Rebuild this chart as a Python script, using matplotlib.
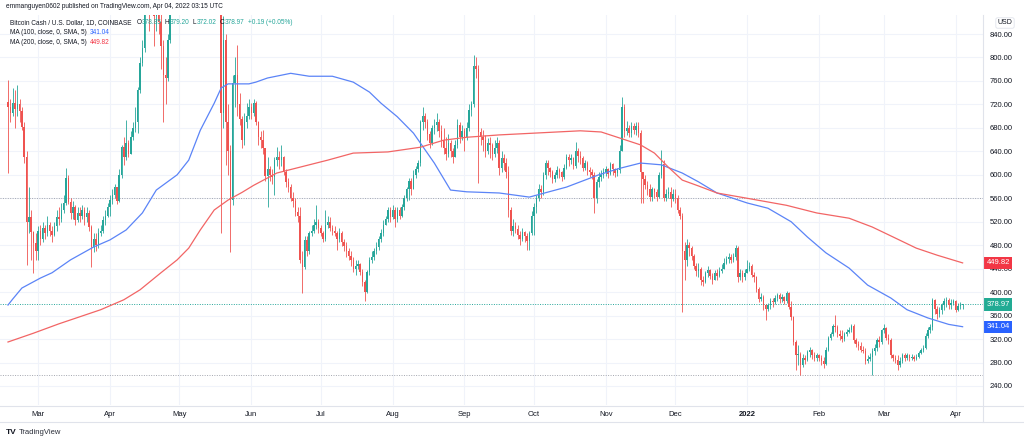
import numpy as np
import pandas as pd
import matplotlib
matplotlib.use('Agg')
import matplotlib.pyplot as plt
from matplotlib.lines import Line2D
from matplotlib.transforms import blended_transform_factory

plt.rcParams['font.family'] = ['Liberation Sans', 'DejaVu Sans']

# daily BCH/USD candles, Coinbase, from 2021-02-16
first_day = '2021-02-16'
first_open = 724
close = [
    716, 705, 722, 712, 720, 708, 681, 630, 520, 528, 502, 483, 470,
    505, 490, 510, 500, 515, 505, 498, 512, 528, 525, 540, 552, 595, 554, 535, 545, 523, 535, 530, 540, 528, 535, 511, 477, 490, 480, 500, 505, 523, 530, 545,
    557, 565, 579, 555, 600, 647, 630, 655, 636, 665, 680, 690, 745, 790, 816, 900, 960, 920, 1000, 870, 880, 860, 820, 770, 765, 830, 900, 940, 960, 1000,
    1050, 1100, 1200, 1320, 1400, 1450, 1480, 1400, 1350, 1500, 1560, 1300, 1200, 1150, 1300, 1200, 1050, 1000, 705, 830, 690, 640, 557, 756, 770, 720, 695, 660, 690, 700, 715,
    705, 722, 690, 665, 660, 645, 598, 610, 600, 596, 625, 630, 625, 630, 605, 588, 580, 560, 555, 537, 530, 455, 443, 489, 470, 500, 505, 515, 520, 510,
    500, 490, 515, 520, 510, 505, 500, 490, 500, 485, 478, 470, 462, 455, 440, 445, 448, 435, 418, 400, 435, 455, 460, 470, 477, 490, 500, 515, 525, 540, 528,
    540, 525, 540, 530, 545, 560, 575, 590, 575, 600, 610, 620, 690, 700, 690, 670, 655, 680, 685, 690, 675, 660, 645, 635, 655, 640, 630, 650, 685, 665, 675,
    665, 680, 710, 720, 785, 780, 673, 665, 660, 640, 655, 650, 635, 645, 655, 612, 628, 620, 605, 540, 505, 512, 508, 498, 490, 502, 495, 488, 500, 530,
    545, 560, 575, 570, 600, 620, 612, 605, 592, 600, 608, 604, 596, 612, 630, 625, 628, 615, 640, 632, 628, 612, 620, 608, 604, 600, 560, 588, 596, 600, 605,
    610, 602, 618, 610, 603, 608, 640, 715, 675, 680, 672, 683, 676, 684, 672, 605, 592, 582, 575, 562, 575, 570, 562, 600, 618, 560, 568, 570, 558, 568,
    560, 540, 530, 470, 455, 480, 475, 462, 445, 436, 440, 420, 418, 432, 438, 428, 420, 432, 428, 436, 440, 450, 456, 460, 455, 460, 475, 425, 432, 426, 432,
    440, 445, 430, 425, 405, 388, 392, 378, 372, 378, 385, 383, 390, 395, 388, 392, 385, 398, 375, 358, 315, 292, 295, 275, 288, 285, 298, 301, 292, 288, 292,
    288, 282, 278, 302, 322, 328, 342, 340, 328, 325, 320, 328, 332, 336, 342, 318, 312, 308, 302, 300, 283, 286, 290, 300, 305, 318, 315, 335,
    339, 322, 318, 292, 288, 285, 275, 282, 292, 288, 292, 287, 290, 286, 290, 296, 301, 305, 325, 335, 341, 386, 372, 362, 370, 378, 385, 387, 378, 382, 385,
    370, 376, 378.85, 378.97,
]
high = [
    762, 730, 748, 745, 753, 730, 715, 690, 640, 579, 540, 505, 500,
    512, 515, 520, 515, 530, 520, 512, 520, 540, 545, 552, 565, 611, 600, 560, 555, 548, 545, 545, 548, 545, 545, 540, 515, 500, 500, 510, 515, 530, 540, 552,
    565, 575, 585, 580, 610, 650, 664, 693, 660, 675, 690, 715, 750, 800, 830, 920, 990, 1000, 1050, 1000, 900, 890, 880, 830, 800, 840, 910, 960, 980, 1020,
    1080, 1150, 1250, 1350, 1450, 1500, 1550, 1500, 1420, 1550, 1640, 1600, 1350, 1250, 1350, 1320, 1250, 1120, 1050, 870, 840, 720, 650, 770, 800, 821, 740, 700, 705, 722, 730,
    722, 730, 725, 692, 675, 676, 645, 630, 615, 610, 630, 647, 640, 650, 632, 610, 595, 585, 570, 560, 545, 545, 470, 495, 495, 505, 515, 525, 549, 525,
    515, 505, 540, 530, 528, 515, 512, 505, 510, 505, 490, 485, 475, 470, 460, 455, 455, 450, 440, 420, 438, 460, 470, 475, 485, 495, 508, 523, 530, 545, 545,
    548, 545, 545, 545, 550, 565, 580, 595, 595, 608, 615, 625, 693, 715, 705, 695, 675, 685, 695, 705, 695, 685, 680, 665, 670, 660, 645, 660, 695, 690, 685,
    680, 690, 720, 725, 804, 800, 787, 680, 676, 668, 662, 665, 655, 660, 665, 660, 640, 635, 628, 615, 545, 525, 520, 515, 505, 510, 505, 500, 505, 538,
    552, 566, 585, 582, 605, 625, 625, 614, 608, 605, 615, 612, 606, 618, 635, 636, 635, 630, 656, 645, 640, 632, 626, 624, 614, 610, 605, 592, 605, 608, 612,
    615, 612, 622, 620, 612, 612, 650, 733, 720, 692, 685, 690, 688, 690, 690, 676, 605, 600, 590, 585, 580, 578, 575, 605, 642, 625, 575, 580, 580, 575,
    575, 565, 545, 535, 485, 490, 485, 478, 465, 450, 450, 442, 428, 436, 445, 440, 432, 438, 440, 442, 448, 458, 462, 466, 465, 466, 480, 478, 440, 438, 440,
    455, 452, 448, 435, 428, 408, 398, 395, 380, 382, 390, 390, 395, 398, 398, 396, 394, 402, 400, 385, 360, 318, 310, 298, 295, 292, 302, 306, 303, 298, 296,
    294, 292, 290, 306, 325, 332, 346, 361, 344, 336, 335, 332, 338, 340, 346, 345, 322, 316, 315, 308, 305, 292, 296, 304, 312, 322, 325, 338,
    345, 340, 328, 322, 295, 293, 292, 290, 296, 296, 296, 294, 294, 292, 294, 300, 305, 310, 330, 340, 345, 390, 388, 376, 375, 382, 390, 392, 390, 388, 388,
    386, 382, 383, 379.20,
]
low = [
    603, 690, 700, 680, 700, 690, 676, 620, 446, 500, 455, 433, 455,
    455, 480, 485, 490, 495, 495, 485, 495, 505, 515, 520, 535, 548, 550, 525, 525, 515, 520, 520, 525, 515, 520, 505, 443, 468, 470, 475, 495, 500, 515, 528,
    530, 550, 560, 550, 553, 595, 617, 625, 630, 635, 660, 673, 671, 740, 785, 810, 890, 845, 900, 820, 845, 840, 780, 690, 720, 760, 825, 890, 930, 950,
    980, 1020, 1080, 1180, 1300, 1350, 1380, 1350, 1300, 1320, 1450, 1200, 1100, 1000, 1050, 1150, 980, 950, 501, 680, 617, 600, 468, 549, 715, 700, 685, 645, 650, 680, 695,
    695, 700, 685, 650, 645, 635, 590, 545, 590, 585, 565, 615, 610, 615, 600, 580, 570, 555, 545, 530, 520, 450, 398, 440, 462, 465, 495, 500, 508, 500,
    495, 485, 488, 510, 505, 498, 495, 472, 485, 478, 470, 460, 455, 445, 435, 430, 440, 430, 410, 385, 398, 430, 450, 455, 465, 472, 485, 495, 515, 520, 520,
    525, 511, 520, 525, 528, 540, 555, 557, 565, 575, 595, 605, 615, 676, 680, 659, 645, 650, 670, 675, 665, 647, 636, 625, 630, 630, 620, 630, 645, 655, 660,
    640, 660, 675, 700, 716, 765, 586, 650, 640, 630, 635, 628, 625, 630, 638, 600, 605, 608, 595, 528, 497, 495, 500, 490, 480, 488, 485, 472, 472, 498,
    498, 535, 555, 560, 565, 592, 600, 596, 586, 588, 595, 595, 590, 592, 610, 615, 618, 610, 612, 622, 618, 606, 608, 600, 596, 592, 535, 552, 580, 590, 595,
    598, 595, 600, 600, 596, 598, 603, 640, 665, 668, 664, 665, 670, 668, 665, 552, 552, 575, 565, 555, 555, 560, 555, 560, 595, 555, 555, 560, 545, 555,
    552, 535, 525, 366, 421, 445, 462, 455, 440, 428, 426, 412, 410, 415, 425, 422, 414, 420, 420, 425, 432, 440, 448, 450, 450, 452, 455, 418, 420, 418, 420,
    432, 436, 425, 418, 400, 384, 385, 370, 353, 368, 372, 375, 380, 385, 382, 384, 380, 382, 372, 352, 310, 267, 276, 259, 272, 278, 282, 290, 286, 282, 283,
    282, 276, 270, 276, 300, 318, 326, 332, 324, 318, 315, 316, 326, 330, 332, 313, 306, 302, 298, 296, 278, 279, 282, 259, 292, 300, 306, 312,
    330, 318, 312, 288, 282, 280, 268, 273, 280, 283, 285, 282, 284, 283, 284, 288, 294, 298, 303, 322, 330, 335, 362, 355, 358, 362, 370, 375, 372, 372, 378,
    366, 368, 372, 372.02,
]

# moving averages (day index since first_day, value)
ma100_day = [0, 2, 6, 14, 19, 27, 37, 44, 51, 58, 64, 73, 78, 83, 89, 92, 95, 104, 107, 112,
             122, 130, 140, 149, 156, 161, 168, 175, 178, 184, 191, 198, 212, 225, 241, 255, 264, 273, 282, 291,
             298, 306, 319, 328, 338, 345, 353, 363, 371, 381, 388, 397, 406, 412]
ma100_val = [378, 388, 407, 424, 433, 455, 477, 489, 506, 535, 574, 600, 625, 676, 722, 748, 755, 755, 758, 765,
             773, 768, 768, 758, 741, 722, 699, 671, 654, 620, 574, 571, 569, 562, 579, 600, 611, 620, 617, 603,
             588, 569, 552, 543, 520, 494, 467, 441, 412, 390, 370, 356, 345, 341.04]
ma200_day = [0, 11, 22, 40, 50, 57, 66, 73, 78, 83, 89, 95, 101, 106, 116, 126, 138, 149, 164, 178,
             188, 198, 212, 227, 247, 256, 263, 273, 279, 285, 291, 298, 306, 319, 336, 349, 363, 373, 382, 392,
             401, 412]
ma200_val = [315, 330, 346, 370, 387, 404, 433, 455, 475, 506, 540, 557, 570, 582, 603, 613, 625, 637, 639, 647,
             659, 664, 668, 671, 675, 673, 664, 651, 637, 613, 591, 581, 569, 560, 548, 535, 526, 511, 494, 475,
             463, 449.82]

drawn_levels = [560, 258]
last_price = 378.97
ma100_last = 341.04
ma200_last = 449.82

UP = '#26a69a'
DOWN = '#ef5350'
GRID = '#f0f3fa'
BORDER = '#e0e3eb'
TXT = '#131722'
FS = 4.7

close = np.array(close, dtype=float)
high = np.array(high, dtype=float)
low = np.array(low, dtype=float)
opens = np.r_[first_open, close[:-1]]
dates = pd.date_range(first_day, periods=len(close), freq='D')
x = np.arange(len(close))

fig = plt.figure(figsize=(10.24, 4.42), dpi=100)
fig.patch.set_facecolor('white')
W, H = 1024, 442
ax = fig.add_axes([0, 1 - 405 / H, 983 / W, 390 / H])
ax.set_xlim(-3.45, 420.8)
ax.set_ylim(207.6, 872.4)

# grid
yt = np.arange(240, 841, 40)
month_idx = [i for i, d in enumerate(dates) if d.day == 1]
month_lab = [d.strftime('%Y') if d.month == 1 else d.strftime('%b') for d in dates[month_idx]]
for v in yt:
    ax.axhline(v, color=GRID, lw=0.8, zorder=0)
for m in month_idx:
    ax.axvline(m, color=GRID, lw=0.8, zorder=0)

# candles
up = close >= opens
cols = np.where(up, UP, DOWN)
lo = np.minimum(low, np.minimum(opens, close))
hi = np.maximum(high, np.maximum(opens, close))
ax.vlines(x, lo, hi, colors=cols, linewidth=0.6, zorder=2)
ax.bar(x, np.maximum(np.abs(close - opens), 1.0), bottom=np.minimum(opens, close),
       width=0.62, color=cols, linewidth=0, zorder=3)

# moving averages
ax.plot(ma100_day, ma100_val, color='#5b84f7', lw=0.9, zorder=4)
ax.plot(ma200_day, ma200_val, color='#f26565', lw=0.9, zorder=4)

# horizontal lines
for lv in drawn_levels:
    ax.axhline(lv, color='#a3a6af', lw=0.7, ls=(0, (1, 1.5)), zorder=1)
ax.axhline(last_price, color=UP, lw=0.7, ls=(0, (1, 1.5)), zorder=1)

# axes
for s in ax.spines.values():
    s.set_visible(False)
ax.yaxis.tick_right()
ax.set_yticks(yt)
ax.set_yticklabels([f'{v:.2f}' for v in yt])
ax.tick_params(axis='y', length=0, pad=5, labelsize=5.5, labelcolor=TXT)
ax.set_xticks(month_idx)
ax.set_xticklabels(month_lab)
ax.tick_params(axis='x', length=0, pad=4, labelsize=5.5, labelcolor=TXT)
for t in ax.get_xticklabels():
    if t.get_text().isdigit():
        t.set_fontweight('bold')

# price tags on the scale
tr = blended_transform_factory(ax.transAxes, ax.transData)
for val, c in [(ma200_last, '#f23645'), (last_price, '#22ab94'), (ma100_last, '#2962ff')]:
    ax.text(1.0035, val, f'{val:.2f}', transform=tr, ha='left', va='center', fontsize=5.5,
            color='white', zorder=10, clip_on=False,
            bbox=dict(boxstyle='square,pad=0.35', fc=c, ec='none'))

# frame lines
def fline(xs, ys):
    fig.add_artist(Line2D([a / W for a in xs], [1 - b / H for b in ys], color=BORDER, lw=0.8))
fline([983, 983], [15, 422])
fline([0, W], [405.5, 405.5])
fline([0, W], [422, 422])

fig.text(1005 / W, 1 - 23 / H, 'USD', ha='center', va='center', fontsize=5, color=TXT,
         bbox=dict(boxstyle='round,pad=0.25', fc='white', ec=BORDER, lw=0.6))

# header and legend, laid out piece by piece
renderer = fig.canvas.get_renderer()

def text_row(y, parts, x0=10):
    px = x0
    for s, c, gap in parts:
        t = fig.text(px / W, 1 - y / H, s, fontsize=FS, va='center', color=c)
        px = t.get_window_extent(renderer=renderer).x1 + gap

fig.text(6 / W, 1 - 6 / H, 'emmanguyen0602 published on TradingView.com, Apr 04, 2022 03:15 UTC',
         fontsize=FS, va='center', color=TXT)
text_row(23, [('Bitcoin Cash / U.S. Dollar, 1D, COINBASE', TXT, 5),
              ('O', TXT, 0.5), ('378.85', UP, 3), ('H', TXT, 0.5), ('379.20', UP, 3),
              ('L', TXT, 0.5), ('372.02', UP, 3), ('C', TXT, 0.5), ('378.97', UP, 3),
              ('+0.19 (+0.05%)', UP, 0)])
text_row(33, [('MA (100, close, 0, SMA, 5)', TXT, 3), (f'{ma100_last:.2f}', '#2962ff', 0)])
text_row(43, [('MA (200, close, 0, SMA, 5)', TXT, 3), (f'{ma200_last:.2f}', '#f23645', 0)])

fig.text(6 / W, 1 - 432 / H, 'TV', fontsize=6, fontweight='bold', va='center', color=TXT)
fig.text(19 / W, 1 - 432 / H, 'TradingView', fontsize=5.5, va='center', color='#2a2e39')

fig.savefig('out.png', dpi=100, facecolor='white')
